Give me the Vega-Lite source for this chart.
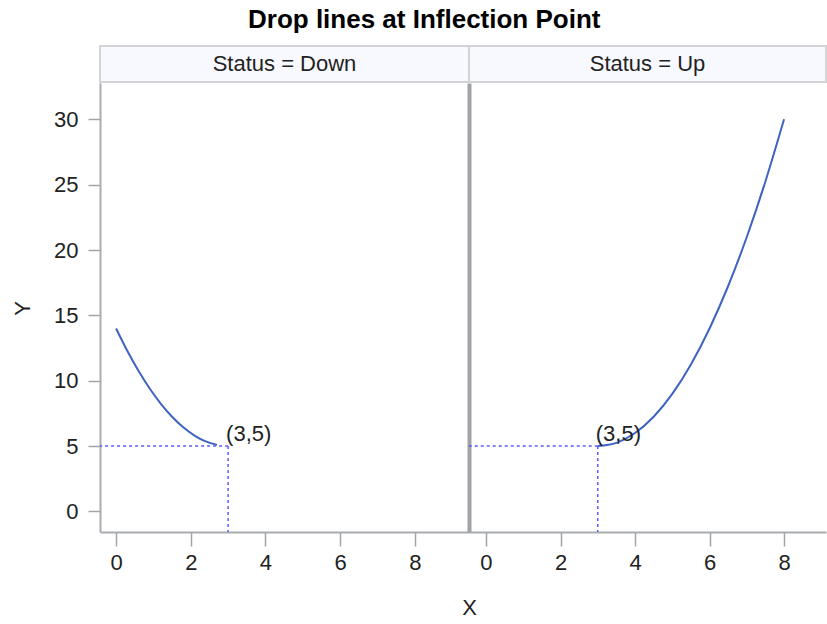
{
  "$schema": "https://vega.github.io/schema/vega-lite/v6.json",
  "background": "white",
  "padding": {"left": 11, "top": 7, "right": 0, "bottom": 0},
  "title": {"text": "Drop lines at Inflection Point", "font": "Liberation Sans", "fontSize": 26, "fontWeight": "bold", "color": "#000000", "anchor": "start", "dx": 237, "offset": 12},
  "datasets": {
    "curve": [
      {"Status": "Down", "X": 0, "Y": 14},
      {"Status": "Down", "X": 0.3, "Y": 12.29},
      {"Status": "Down", "X": 0.6, "Y": 10.76},
      {"Status": "Down", "X": 0.9, "Y": 9.41},
      {"Status": "Down", "X": 1.2, "Y": 8.24},
      {"Status": "Down", "X": 1.5, "Y": 7.25},
      {"Status": "Down", "X": 1.8, "Y": 6.44},
      {"Status": "Down", "X": 2.1, "Y": 5.81},
      {"Status": "Down", "X": 2.4, "Y": 5.36},
      {"Status": "Down", "X": 2.7, "Y": 5.09},
      {"Status": "Up", "X": 3, "Y": 5},
      {"Status": "Up", "X": 3.5, "Y": 5.25},
      {"Status": "Up", "X": 4, "Y": 6},
      {"Status": "Up", "X": 4.5, "Y": 7.25},
      {"Status": "Up", "X": 5, "Y": 9},
      {"Status": "Up", "X": 5.5, "Y": 11.25},
      {"Status": "Up", "X": 6, "Y": 14},
      {"Status": "Up", "X": 6.5, "Y": 17.25},
      {"Status": "Up", "X": 7, "Y": 21},
      {"Status": "Up", "X": 7.5, "Y": 25.25},
      {"Status": "Up", "X": 8, "Y": 30}
    ],
    "inflect": [
      {"Status": "Down", "X": 3, "Y": 5, "label": "(3,5)"},
      {"Status": "Up", "X": 3, "Y": 5, "label": "(3,5)"}
    ],
    "headers": [
      {"Status": "Down", "label": "Status = Down"},
      {"Status": "Up", "label": "Status = Up"}
    ]
  },
  "config": {
    "view": {"stroke": null},
    "font": "Liberation Sans",
    "axis": {
      "labelFont": "Liberation Sans", "labelFontSize": 22, "labelColor": "#222222",
      "titleFont": "Liberation Sans", "titleFontSize": 22, "titleFontWeight": "normal", "titleColor": "#222222",
      "grid": false, "domainColor": "#a8acb0", "domainWidth": 2,
      "tickColor": "#a0a4a8", "tickWidth": 1.5
    }
  },
  "spacing": 0,
  "vconcat": [
    {
      "spacing": 0,
      "bounds": "flush",
      "hconcat": [
        {
          "width": 369, "height": 36,
          "data": {"name": "headers"},
          "transform": [{"filter": "datum.Status === 'Down'"}],
          "view": {"fill": "#f8f9fe", "stroke": "#d2d4d6", "strokeWidth": 2},
          "mark": {"type": "text", "fontSize": 22, "color": "#222222", "align": "center", "baseline": "middle", "font": "Liberation Sans"},
          "encoding": {"text": {"field": "label", "type": "nominal"}}
        },
        {
          "width": 357, "height": 36,
          "data": {"name": "headers"},
          "transform": [{"filter": "datum.Status === 'Up'"}],
          "view": {"fill": "#f8f9fe", "stroke": "#d2d4d6", "strokeWidth": 2},
          "mark": {"type": "text", "fontSize": 22, "color": "#222222", "align": "center", "baseline": "middle", "font": "Liberation Sans"},
          "encoding": {"text": {"field": "label", "type": "nominal"}}
        }
      ]
    },
    {
      "spacing": 0,
      "bounds": "flush",
      "hconcat": [
        {
          "width": 369, "height": 449,
          "layer": [
            {
              "data": {"name": "curve"},
              "transform": [{"filter": "datum.Status === 'Down'"}],
              "mark": {"type": "line", "color": "#3e63c0", "strokeWidth": 2, "interpolate": "monotone"},
              "encoding": {
                "x": {"field": "X", "type": "quantitative",
                  "scale": {"domain": [-0.43, 9.45], "nice": false, "zero": false},
                  "axis": {"values": [0, 2, 4, 6, 8], "title": "X", "tickSize": 14, "labelPadding": 6,
                    "titleX": 369, "titleY": 75, "titleAlign": "center", "titleBaseline": "middle"}},
                "y": {"field": "Y", "type": "quantitative",
                  "scale": {"domain": [-1.57, 32.78], "nice": false, "zero": false},
                  "axis": {"values": [0, 5, 10, 15, 20, 25, 30], "title": "Y", "tickSize": 12, "labelPadding": 10,
                    "titleX": -78, "titleY": 225, "titleAngle": 270, "titleAlign": "center", "titleBaseline": "middle"}}
              }
            },
            {
              "data": {"name": "inflect"},
              "transform": [{"filter": "datum.Status === 'Down'"}],
              "mark": {"type": "rule", "color": "#5c5cff", "strokeDash": [3, 3], "strokeWidth": 1.5},
              "encoding": {
                "x": {"field": "X", "type": "quantitative"},
                "x2": {"datum": -0.43},
                "y": {"field": "Y", "type": "quantitative"}
              }
            },
            {
              "data": {"name": "inflect"},
              "transform": [{"filter": "datum.Status === 'Down'"}],
              "mark": {"type": "rule", "color": "#5c5cff", "strokeDash": [3, 3], "strokeWidth": 1.5},
              "encoding": {
                "x": {"field": "X", "type": "quantitative"},
                "y": {"field": "Y", "type": "quantitative"},
                "y2": {"datum": -1.57}
              }
            },
            {
              "data": {"name": "inflect"},
              "transform": [{"filter": "datum.Status === 'Down'"}],
              "mark": {"type": "text", "align": "left", "baseline": "alphabetic", "dx": -2, "dy": -5, "fontSize": 22, "color": "#222222", "font": "Liberation Sans"},
              "encoding": {
                "x": {"field": "X", "type": "quantitative"},
                "y": {"field": "Y", "type": "quantitative"},
                "text": {"field": "label", "type": "nominal"}
              }
            }
          ]
        },
        {
          "width": 357, "height": 449,
          "layer": [
            {
              "data": {"name": "curve"},
              "transform": [{"filter": "datum.Status === 'Up'"}],
              "mark": {"type": "line", "color": "#3e63c0", "strokeWidth": 2, "interpolate": "monotone"},
              "encoding": {
                "x": {"field": "X", "type": "quantitative",
                  "scale": {"domain": [-0.456, 9.126], "nice": false, "zero": false},
                  "axis": {"values": [0, 2, 4, 6, 8], "title": null, "tickSize": 14, "labelPadding": 6}},
                "y": {"field": "Y", "type": "quantitative",
                  "scale": {"domain": [-1.57, 32.78], "nice": false, "zero": false},
                  "axis": {"title": null, "labels": false, "ticks": false, "domainColor": "#9fa3a7", "domainWidth": 4}}
              }
            },
            {
              "data": {"name": "inflect"},
              "transform": [{"filter": "datum.Status === 'Up'"}],
              "mark": {"type": "rule", "color": "#5c5cff", "strokeDash": [3, 3], "strokeWidth": 1.5},
              "encoding": {
                "x": {"field": "X", "type": "quantitative"},
                "x2": {"datum": -0.456},
                "y": {"field": "Y", "type": "quantitative"}
              }
            },
            {
              "data": {"name": "inflect"},
              "transform": [{"filter": "datum.Status === 'Up'"}],
              "mark": {"type": "rule", "color": "#5c5cff", "strokeDash": [3, 3], "strokeWidth": 1.5},
              "encoding": {
                "x": {"field": "X", "type": "quantitative"},
                "y": {"field": "Y", "type": "quantitative"},
                "y2": {"datum": -1.57}
              }
            },
            {
              "data": {"name": "inflect"},
              "transform": [{"filter": "datum.Status === 'Up'"}],
              "mark": {"type": "text", "align": "left", "baseline": "alphabetic", "dx": -2, "dy": -5, "fontSize": 22, "color": "#222222", "font": "Liberation Sans"},
              "encoding": {
                "x": {"field": "X", "type": "quantitative"},
                "y": {"field": "Y", "type": "quantitative"},
                "text": {"field": "label", "type": "nominal"}
              }
            }
          ]
        }
      ]
    }
  ]
}
